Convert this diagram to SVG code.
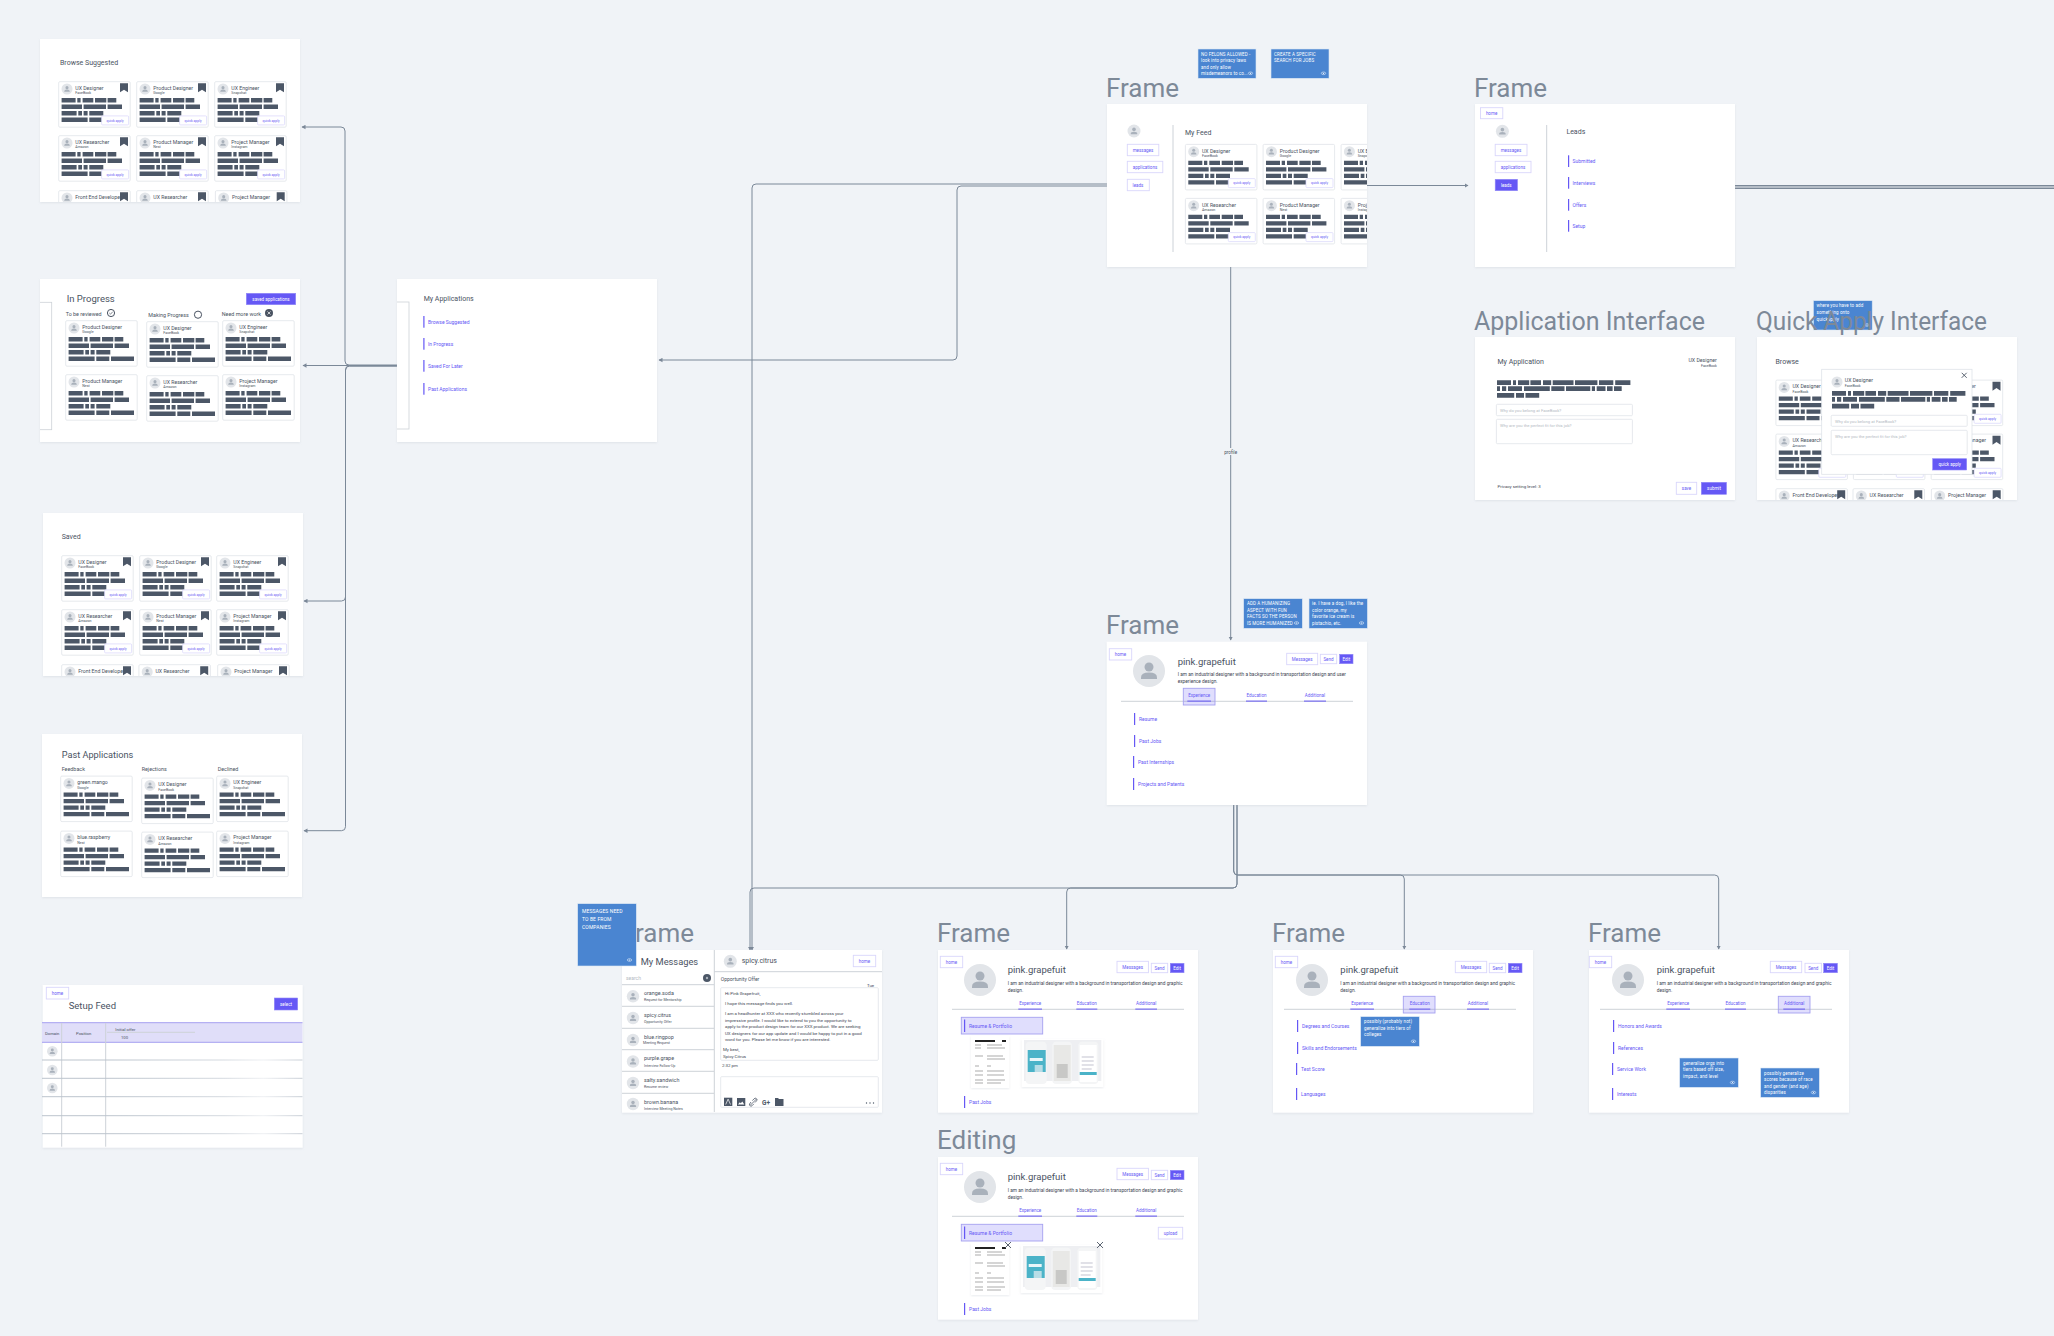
<svg xmlns="http://www.w3.org/2000/svg" width="2054" height="1336" viewBox="0 0 2054 1336">
<style>
text{font-family:Roboto,"Liberation Sans",sans-serif}
.fr{fill:#fff;filter:url(#sh)}
.ti{font-size:26px;fill:#7d8998}
.h1{font-size:9.5px;fill:#4a5362}
.h2{font-size:7px;fill:#4a5362}
.lb{font-size:5.4px;fill:#4a5362}
.ct{font-size:5.2px;fill:#4a5362}
.cs{font-size:3.6px;fill:#4a5362}
.qt{font-size:3.4px;fill:#6558f5;text-anchor:middle}
.bt{font-size:4.5px;fill:#6558f5;text-anchor:middle}
.bw{font-size:4.5px;fill:#fff;text-anchor:middle}
.bo{fill:#fff;stroke:#d9d6fb;stroke-width:.9}
.bf{fill:#6558f5;stroke:#8f88f7;stroke-width:.6}
.ib{fill:#6558f5}
.it{font-size:5px;fill:#6558f5}
.nt{fill:#4a85d1;stroke:#dbe6f4;stroke-width:.6}
.nx{font-size:4.5px;fill:#fff;letter-spacing:.1px}
.dv{stroke:#cdd2d8;stroke-width:1;fill:none}
.in{fill:#fff;stroke:#dfe3e8;stroke-width:.8}
.ph{font-size:4.2px;fill:#b4bac3}
.bs{font-size:4.8px;fill:#3e4653}
.bar{fill:#4c5767}
.cn{fill:none;stroke:#7b8898;stroke-width:1}
.hl{fill:#6558f5;fill-opacity:.2;stroke:#a5a0f0;stroke-width:.9}
.x{stroke:#4a5362;stroke-width:.9;fill:none}
.rw{stroke:url(#fade);stroke-width:1;fill:none}
.sm{font-size:4.4px;fill:#3e4653}
</style>
<defs>
<filter id="sh" x="-3%" y="-3%" width="106%" height="106%"><feDropShadow dx="0" dy="1" stdDeviation="1" flood-color="#aab3bf" flood-opacity=".25"/></filter>
<linearGradient id="fade" gradientUnits="userSpaceOnUse" x1="105" y1="0" x2="303" y2="0"><stop offset="0" stop-color="#bcc4cd"/><stop offset=".6" stop-color="#d5dae0"/><stop offset=".8" stop-color="#eef0f3"/><stop offset="1" stop-color="#c8ced6"/></linearGradient>
<marker id="ah" markerUnits="userSpaceOnUse" markerWidth="5" markerHeight="5" refX="3.5" refY="2.5" orient="auto"><path d="M0 .3L4 2.5L0 4.7z" fill="#7b8898"/></marker>
<clipPath id="cb"><rect x="40" y="39" width="260" height="163"/></clipPath>
<clipPath id="cs"><rect x="43" y="513" width="260" height="163"/></clipPath>
<clipPath id="cf"><rect x="1107" y="104" width="260" height="163"/></clipPath>
<clipPath id="cq"><rect x="1757" y="337" width="260" height="163"/></clipPath>
<clipPath id="cp"><rect x="40" y="279" width="260" height="163"/></clipPath>
<clipPath id="ca"><rect x="397" y="279" width="260" height="163"/></clipPath>
<g id="av"><circle r="10" fill="#e2e5e9"/><circle cy="-2.5" r="2.8" fill="#a9b1bb"/><path d="M-5 5V4Q-5 1 0 1Q5 1 5 4V5Z" fill="#a9b1bb"/></g>
<g id="c"><rect x=".4" y=".4" width="71.5" height="45.5" rx="1.2" fill="#fff" stroke="#dfe3e8" stroke-width=".8"/><use href="#av" transform="translate(8.7,7.7) scale(.55)"/><path class="bar" d="M3.3 16.7h14v4.4h-14zM19 16.7h3.3v4.4h-3.3zM24.3 16.7h10.7v4.4h-10.7zM36.7 16.7h11.3v4.4h-11.3zM49.3 16.7h8.7v4.4h-8.7zM3.3 23.2h20.4v4.4h-20.4zM25.3 23.2h22.4v4.4h-22.4zM49.3 23.2h14.4v4.4h-14.4zM3.3 29.7h15v4.4h-15zM20 29.7h3.7v4.4h-3.7zM25.3 29.7h4v4.4h-4zM31 29.7h14v4.4h-14zM3.3 36.2h26v4.4h-26zM31 36.2h13v4.4h-13zM45.7 36.2h23v4.4h-23z"/></g>
<rect id="q" x="43.3" y="34.6" width="27" height="9" rx="1" fill="#fff" stroke="#d9d6fb" stroke-width=".7"/>
<path id="bm" d="M61.7 2h8v9l-4-2.6l-4 2.6z" fill="#4c5767"/>
<path id="sk" class="bar" d="M0 0h14v4.7h-14zM16 0h3v4.7h-3zM21 0h11.2v4.7h-11.2zM33.4 0h10.6v4.7h-10.6zM46 0h8.2v4.7h-8.2zM55.7 0h20.8v4.7h-20.8zM78 0h22.4v4.7h-22.4zM102 0h14.3v4.7h-14.3zM118.2 0h15.2v4.7h-15.2zM0 6h3v4.7h-3zM5 6h4.2v4.7h-4.2zM11 6h14v4.7h-14zM27 6h25.8v4.7h-25.8zM54.3 6h13.2v4.7h-13.2zM69 6h24.3v4.7h-24.3zM94.8 6h3.2v4.7h-3.2zM99.7 6h8.8v4.7h-8.8zM110 6h5.6v4.7h-5.6zM117 6h7.7v4.7h-7.7zM0 12.7h17.2v4.7h-17.2zM19 12.7h8v4.7h-8zM28.5 12.7h13.7v4.7h-13.7z"/>
<g id="eye"><ellipse rx="2.2" ry="1.3" fill="none" stroke="#fff" stroke-width=".5"/><circle r=".6" fill="#fff"/></g>
<g id="rt"><rect width="38.3" height="52" fill="#fff" filter="url(#sh)"/><path d="M4 4h20v2h-20zM31 4h4v2h-4z" fill="#222"/><path d="M4 9h6M16 9h15M4 12h6M16 12h18M4 20h8M16 20h16M16 23h18M4 30h4M16 30h4M4 35h8M16 35h17M4 39h8M16 39h17M4 44h8M16 44h18M4 47h8M16 47h14" stroke="#888" stroke-width=".7" fill="none"/></g>
<g id="ph"><rect width="81.6" height="48" fill="#fff" filter="url(#sh)"/><rect x="2.3" y="1" width="77.3" height="41" fill="#eeeff2"/><rect x="4" y="2.7" width="21" height="42.3" rx="4" fill="#f4f5f6"/><rect x="6" y="11" width="18" height="22" fill="#4bb3c8"/><path d="M8 19h13v3h-13z" fill="#e9f6f9"/><path d="M13 26h8v7h-8z" fill="#b8dde6"/><rect x="30.6" y="2.7" width="19.7" height="42.3" rx="4" fill="#f4f5f6"/><rect x="32" y="6" width="17" height="36" fill="#e8e8e6"/><path d="M35 25h11v14h-11z" fill="#c8c8c6"/><rect x="56.6" y="2.7" width="20" height="42.3" rx="4" fill="#f4f5f6"/><rect x="58" y="6" width="17" height="37" fill="#fff"/><path d="M60 18h12M60 22h12M60 26h12M60 30h10" stroke="#aab" stroke-width=".7"/><rect x="58" y="33" width="17" height="3" fill="#4bb3c8"/></g>
</defs>
<rect width="2054" height="1336" fill="#f0f3f7"/>

<g id="connectors" class="cn">
<path class="cn" d="M397 365H349q-4 0-4-4V131q0-4-4-4H302" marker-end="url(#ah)"/>
<path class="cn" d="M397 365.5H303" marker-end="url(#ah)"/>
<path class="cn" d="M397 366H349.5q-4 0-4 4V597q0 4-4 4H304" marker-end="url(#ah)"/>
<path class="cn" d="M397 366H349.5q-4 0-4 4V826.7q0 4-4 4H304" marker-end="url(#ah)"/>
<path class="cn" d="M1107 184H756q-4 0-4 4V950" marker-end="url(#ah)"/>
<path class="cn" d="M1107 186H961q-4 0-4 4V356q0 4-4 4H659" marker-end="url(#ah)"/>
<path class="cn" d="M1367 185.5H1468" marker-end="url(#ah)"/>
<path class="cn" d="M1733 185.5H2054M1733 187H2054M1733 188.5H2054" style="stroke-width:1.2"/>
<path class="cn" d="M1230.7 267V640" marker-end="url(#ah)"/>
<path class="cn" d="M1233.7 805V871q0 4 4 4H1400.3q4 0 4 4V949" marker-end="url(#ah)"/>
<path class="cn" d="M1233.7 805V871q0 4 4 4H1714.7q4 0 4 4V949" marker-end="url(#ah)"/>
<path class="cn" d="M1237 805V884q0 4-4 4H1070.7q-4 0-4 4V949" marker-end="url(#ah)"/>
<path class="cn" d="M1237 805V884q0 4-4 4H754q-4 0-4 4V950" marker-end="url(#ah)"/>
<rect x="1222" y="448" width="17" height="7" fill="#f0f3f7" stroke="none"/>
<text x="1230.7" y="454" font-size="4.6" fill="#4a5362" stroke="none" text-anchor="middle">profile</text>
</g>

<g id="browse-suggested">
<rect class="fr" x="40" y="39" width="260" height="163"/>
<g clip-path="url(#cb)">
<text class="h2" x="60" y="64.7">Browse Suggested</text>
<g transform="translate(58.3,81.3)"><use href="#c"/><use href="#bm"/><use href="#q"/><text class="ct" x="17" y="8.7">UX Designer</text><text class="cs" x="17" y="13.2">FaceBook</text><text class="qt" x="56.8" y="40.4">quick apply</text></g>
<g transform="translate(136.3,81.3)"><use href="#c"/><use href="#bm"/><use href="#q"/><text class="ct" x="17" y="8.7">Product Designer</text><text class="cs" x="17" y="13.2">Google</text><text class="qt" x="56.8" y="40.4">quick apply</text></g>
<g transform="translate(214.3,81.3)"><use href="#c"/><use href="#bm"/><use href="#q"/><text class="ct" x="17" y="8.7">UX Engineer</text><text class="cs" x="17" y="13.2">Snapchat</text><text class="qt" x="56.8" y="40.4">quick apply</text></g>
<g transform="translate(58.3,135.3)"><use href="#c"/><use href="#bm"/><use href="#q"/><text class="ct" x="17" y="8.7">UX Researcher</text><text class="cs" x="17" y="13.2">Amazon</text><text class="qt" x="56.8" y="40.4">quick apply</text></g>
<g transform="translate(136.3,135.3)"><use href="#c"/><use href="#bm"/><use href="#q"/><text class="ct" x="17" y="8.7">Product Manager</text><text class="cs" x="17" y="13.2">Nest</text><text class="qt" x="56.8" y="40.4">quick apply</text></g>
<g transform="translate(214.3,135.3)"><use href="#c"/><use href="#bm"/><use href="#q"/><text class="ct" x="17" y="8.7">Project Manager</text><text class="cs" x="17" y="13.2">Instagram</text><text class="qt" x="56.8" y="40.4">quick apply</text></g>
<g transform="translate(58.3,190.3)"><use href="#c"/><text class="ct" x="17" y="8.7">Front End Developer</text><use href="#bm"/></g>
<g transform="translate(136.3,190.3)"><use href="#c"/><text class="ct" x="17" y="8.7">UX Researcher</text><use href="#bm"/></g>
<g transform="translate(215,190.3)"><use href="#c"/><text class="ct" x="17" y="8.7">Project Manager</text><use href="#bm"/></g>
</g>
</g>

<g id="in-progress">
<rect class="fr" x="40" y="279" width="260" height="163"/>
<g clip-path="url(#cp)"><rect x="20" y="302.3" width="31.7" height="127.4" fill="#fff" stroke="#cdd2d8" stroke-width=".8"/></g>
<text class="h1" x="66.7" y="302">In Progress</text>
<rect class="bf" x="246.3" y="293.3" width="49.4" height="11.4"/><text class="bw" x="271" y="300.5">saved applications</text>
<text class="lb" x="65.7" y="315.7">To be reviewed</text><circle cx="111" cy="313" r="3.6" fill="none" stroke="#4a5362" stroke-width="1"/><path d="M109.3 313l1.2 1.2l2.2-2.4" fill="none" stroke="#4a5362" stroke-width=".7"/>
<text class="lb" x="148.3" y="316.7">Making Progress</text><circle cx="198" cy="314.7" r="3.6" fill="none" stroke="#4a5362" stroke-width="1"/>
<text class="lb" x="221.7" y="315.7">Need more work</text><circle cx="269" cy="313" r="4" fill="#4a5362"/><path d="M267.5 311.5l3 3M270.5 311.5l-3 3" stroke="#fff" stroke-width=".7"/>
<g transform="translate(65.3,320.3)"><use href="#c"/><text class="ct" x="17" y="8.7">Product Designer</text><text class="cs" x="17" y="13.2">Google</text></g>
<g transform="translate(146.3,321.3)"><use href="#c"/><text class="ct" x="17" y="8.7">UX Designer</text><text class="cs" x="17" y="13.2">FaceBook</text></g>
<g transform="translate(222.3,320.3)"><use href="#c"/><text class="ct" x="17" y="8.7">UX Engineer</text><text class="cs" x="17" y="13.2">Snapchat</text></g>
<g transform="translate(65.3,374.3)"><use href="#c"/><text class="ct" x="17" y="8.7">Product Manager</text><text class="cs" x="17" y="13.2">Nest</text></g>
<g transform="translate(146.3,375.3)"><use href="#c"/><text class="ct" x="17" y="8.7">UX Researcher</text><text class="cs" x="17" y="13.2">Amazon</text></g>
<g transform="translate(222.3,374.3)"><use href="#c"/><text class="ct" x="17" y="8.7">Project Manager</text><text class="cs" x="17" y="13.2">Instagram</text></g>
</g>

<g id="my-applications">
<rect class="fr" x="397" y="279" width="260" height="163"/>
<g clip-path="url(#ca)"><rect x="380" y="302" width="29" height="127" fill="#fff" stroke="#cdd2d8" stroke-width=".8"/></g>
<text class="h2" x="423.7" y="300.7">My Applications</text>
<rect class="ib" x="423.3" y="316" width="1.2" height="11.7"/><text class="it" x="428" y="324">Browse Suggested</text>
<rect class="ib" x="423.3" y="338" width="1.2" height="11.7"/><text class="it" x="428" y="346">In Progress</text>
<rect class="ib" x="423.3" y="360" width="1.2" height="11.7"/><text class="it" x="428" y="368">Saved For Later</text>
<rect class="ib" x="423.3" y="383" width="1.2" height="11.7"/><text class="it" x="428" y="391">Past Applications</text>
</g>

<g id="saved">
<rect class="fr" x="43" y="513" width="260" height="163"/>
<g clip-path="url(#cs)">
<text class="h2" x="61.7" y="538.7">Saved</text>
<g transform="translate(61.3,555.3)"><use href="#c"/><use href="#bm"/><use href="#q"/><text class="ct" x="17" y="8.7">UX Designer</text><text class="cs" x="17" y="13.2">FaceBook</text><text class="qt" x="56.8" y="40.4">quick apply</text></g>
<g transform="translate(139.3,555.3)"><use href="#c"/><use href="#bm"/><use href="#q"/><text class="ct" x="17" y="8.7">Product Designer</text><text class="cs" x="17" y="13.2">Google</text><text class="qt" x="56.8" y="40.4">quick apply</text></g>
<g transform="translate(216.3,555.3)"><use href="#c"/><use href="#bm"/><use href="#q"/><text class="ct" x="17" y="8.7">UX Engineer</text><text class="cs" x="17" y="13.2">Snapchat</text><text class="qt" x="56.8" y="40.4">quick apply</text></g>
<g transform="translate(61.3,609.3)"><use href="#c"/><use href="#bm"/><use href="#q"/><text class="ct" x="17" y="8.7">UX Researcher</text><text class="cs" x="17" y="13.2">Amazon</text><text class="qt" x="56.8" y="40.4">quick apply</text></g>
<g transform="translate(139.3,609.3)"><use href="#c"/><use href="#bm"/><use href="#q"/><text class="ct" x="17" y="8.7">Product Manager</text><text class="cs" x="17" y="13.2">Nest</text><text class="qt" x="56.8" y="40.4">quick apply</text></g>
<g transform="translate(216.3,609.3)"><use href="#c"/><use href="#bm"/><use href="#q"/><text class="ct" x="17" y="8.7">Project Manager</text><text class="cs" x="17" y="13.2">Instagram</text><text class="qt" x="56.8" y="40.4">quick apply</text></g>
<g transform="translate(61.3,664.3)"><use href="#c"/><text class="ct" x="17" y="8.7">Front End Developer</text><use href="#bm"/></g>
<g transform="translate(138.5,664.3)"><use href="#c"/><text class="ct" x="17" y="8.7">UX Researcher</text><use href="#bm"/></g>
<g transform="translate(217.3,664.3)"><use href="#c"/><text class="ct" x="17" y="8.7">Project Manager</text><use href="#bm"/></g>
</g>
</g>

<g id="past-applications">
<rect class="fr" x="42" y="734" width="260" height="163"/>
<text class="h1" x="61.7" y="758.3" style="font-size:9.2px">Past Applications</text>
<text class="lb" x="61.7" y="770.7">Feedback</text><text class="lb" x="141.7" y="770.7">Rejections</text><text class="lb" x="217.7" y="770.7">Declined</text>
<g transform="translate(60.3,775.7)"><use href="#c"/><text class="ct" x="17" y="8.7">green.mango</text><text class="cs" x="17" y="13.2">Google</text></g>
<g transform="translate(141.3,777.7)"><use href="#c"/><text class="ct" x="17" y="8.7">UX Designer</text><text class="cs" x="17" y="13.2">FaceBook</text></g>
<g transform="translate(216.3,775.7)"><use href="#c"/><text class="ct" x="17" y="8.7">UX Engineer</text><text class="cs" x="17" y="13.2">Snapchat</text></g>
<g transform="translate(60.3,830.7)"><use href="#c"/><text class="ct" x="17" y="8.7">blue.raspberry</text><text class="cs" x="17" y="13.2">Nest</text></g>
<g transform="translate(141.3,831.7)"><use href="#c"/><text class="ct" x="17" y="8.7">UX Researcher</text><text class="cs" x="17" y="13.2">Amazon</text></g>
<g transform="translate(216.3,830.7)"><use href="#c"/><text class="ct" x="17" y="8.7">Project Manager</text><text class="cs" x="17" y="13.2">Instagram</text></g>
</g>

<g id="setup-feed">
<rect class="fr" x="42.7" y="985" width="260" height="162.7"/>
<rect class="bo" x="46.3" y="987.3" width="22.4" height="11.7"/><text class="bt" x="57.5" y="995">home</text>
<text class="h1" x="68.7" y="1009">Setup Feed</text>
<rect class="bf" x="274.3" y="998" width="23.4" height="12"/><text class="bw" x="286" y="1005.5">select</text>
<rect x="42" y="1022.7" width="260.5" height="19.6" fill="#e0def9"/>
<path d="M42 1022.7H302.5M42 1042.3H302.5" stroke="#a5a0f0" stroke-width="1" fill="none"/>
<path class="dv" d="M61.7 1023V1146.7M105.7 1023V1146.7M107 1032.3H195"/>
<path class="rw" d="M42 1060H302.5M42 1078.3H302.5M42 1096.7H302.5M42 1115.7H302.5M42 1133.7H302.5"/>
<text class="ph" style="fill:#4a5362" x="45" y="1035">Domain</text>
<text class="ph" style="fill:#4a5362;text-anchor:middle" x="83.7" y="1035">Position</text>
<text class="ph" style="fill:#4a5362" x="115.3" y="1031">Initial offer</text>
<text class="ph" style="fill:#4a5362" x="121" y="1039">100</text>
<use href="#av" transform="translate(52.3,1051.3) scale(.53)"/><use href="#av" transform="translate(52.3,1070) scale(.53)"/><use href="#av" transform="translate(52.3,1088) scale(.53)"/>
</g>

<g id="feed">
<text class="ti" x="1106" y="96.5">Frame</text>
<rect class="nt" x="1198" y="49" width="58" height="29.3"/>
<text class="nx" x="1201" y="55.5">NO FELONS ALLOWED -</text><text class="nx" x="1201" y="62">look into privacy laws</text><text class="nx" x="1201" y="68.5">and only allow</text><text class="nx" x="1201" y="75">misdemeanors to co...</text><use href="#eye" transform="translate(1250.5,73.3)"/>
<rect class="nt" x="1271" y="49" width="58" height="29.3"/>
<text class="nx" x="1274" y="55.5">CREATE A SPECIFIC</text><text class="nx" x="1274" y="62">SEARCH FOR JOBS</text><use href="#eye" transform="translate(1323.5,73.3)"/>
<rect class="fr" x="1107" y="104" width="260" height="163"/>
<g clip-path="url(#cf)">
<use href="#av" transform="translate(1134,131) scale(.65)"/>
<rect class="bo" x="1127.3" y="144.3" width="31.5" height="11.4"/><text class="bt" x="1143" y="152">messages</text>
<rect class="bo" x="1127.3" y="161.3" width="35.5" height="11.4"/><text class="bt" x="1145" y="169">applications</text>
<rect class="bo" x="1127.3" y="179.3" width="22" height="11.4"/><text class="bt" x="1138" y="187">leads</text>
<path class="dv" d="M1173 125V252"/>
<text class="h2" x="1185" y="135">My Feed</text>
<g transform="translate(1185,144)"><use href="#c"/><use href="#q"/><text class="ct" x="17" y="8.7">UX Designer</text><text class="cs" x="17" y="13.2">FaceBook</text><text class="qt" x="56.8" y="40.4">quick apply</text></g>
<g transform="translate(1262.7,144)"><use href="#c"/><use href="#q"/><text class="ct" x="17" y="8.7">Product Designer</text><text class="cs" x="17" y="13.2">Google</text><text class="qt" x="56.8" y="40.4">quick apply</text></g>
<g transform="translate(1340.7,144)"><use href="#c"/><text class="ct" x="17" y="8.7">UX Engineer</text><text class="cs" x="17" y="13.2">Snapchat</text></g>
<g transform="translate(1185,198)"><use href="#c"/><use href="#q"/><text class="ct" x="17" y="8.7">UX Researcher</text><text class="cs" x="17" y="13.2">Amazon</text><text class="qt" x="56.8" y="40.4">quick apply</text></g>
<g transform="translate(1262.7,198)"><use href="#c"/><use href="#q"/><text class="ct" x="17" y="8.7">Product Manager</text><text class="cs" x="17" y="13.2">Nest</text><text class="qt" x="56.8" y="40.4">quick apply</text></g>
<g transform="translate(1340.7,198)"><use href="#c"/><text class="ct" x="17" y="8.7">Project Manager</text><text class="cs" x="17" y="13.2">Instagram</text></g>
</g>
</g>

<g id="leads">
<text class="ti" x="1474" y="96.5">Frame</text>
<rect class="fr" x="1475" y="104" width="260" height="163"/>
<rect class="bo" x="1480.5" y="107.7" width="22.3" height="11"/><text class="bt" x="1491.6" y="115">home</text>
<use href="#av" transform="translate(1502.4,131.3) scale(.65)"/>
<rect class="bo" x="1495.2" y="144.3" width="31.8" height="11.4"/><text class="bt" x="1511" y="152">messages</text>
<rect class="bo" x="1495.2" y="161.3" width="35.8" height="11.4"/><text class="bt" x="1513" y="169">applications</text>
<rect class="bf" x="1495.2" y="179.3" width="22.3" height="11.4"/><text class="bw" x="1506.3" y="187">leads</text>
<path class="dv" d="M1546.7 125V252"/>
<text class="h2" x="1566.4" y="133.7">Leads</text>
<rect class="ib" x="1568" y="155.3" width="1.2" height="11.7"/><text class="it" x="1572.5" y="162.7">Submitted</text>
<rect class="ib" x="1568" y="177" width="1.2" height="11.7"/><text class="it" x="1572.5" y="185">Interviews</text>
<rect class="ib" x="1568" y="199" width="1.2" height="11.7"/><text class="it" x="1572.5" y="207">Offers</text>
<rect class="ib" x="1568" y="220" width="1.2" height="11.7"/><text class="it" x="1572.5" y="228">Setup</text>
</g>

<g id="application-interface">
<text class="ti" x="1474" y="330" textLength="231" lengthAdjust="spacingAndGlyphs">Application Interface</text>
<rect class="fr" x="1475" y="337" width="260" height="163"/>
<text class="h2" x="1497.5" y="363.7">My Application</text>
<text class="ct" x="1716.8" y="361.7" text-anchor="end">UX Designer</text><text class="cs" x="1716.8" y="367" text-anchor="end">FaceBook</text>
<use href="#sk" x="1497" y="380.3"/>
<rect class="in" x="1496.4" y="404.3" width="136" height="11.4" rx="1"/><text class="ph" x="1500" y="412">Why do you belong at FaceBook?</text>
<rect class="in" x="1496.4" y="419.3" width="136" height="24.4" rx="1"/><text class="ph" x="1500" y="427">Why are you the perfect fit for this job?</text>
<text class="sm" x="1497.5" y="487.7">Privacy setting level: 3</text>
<rect class="bo" x="1676.3" y="482.3" width="20.4" height="12"/><text class="bt" x="1686.5" y="490">save</text>
<rect class="bf" x="1701.3" y="482.3" width="25.2" height="12"/><text class="bw" x="1714" y="490">submit</text>
</g>

<g id="quick-apply-interface">
<rect class="nt" x="1813.4" y="300.7" width="58.8" height="29.3"/>
<text class="nx" x="1816.5" y="307">where you have to add</text><text class="nx" x="1816.5" y="314">something onto</text><text class="nx" x="1816.5" y="321">quickapply</text><use href="#eye" transform="translate(1867,325)"/>
<text class="ti" x="1756" y="330" textLength="231" lengthAdjust="spacingAndGlyphs">Quick Apply Interface</text>
<rect class="fr" x="1757" y="337" width="260" height="163"/>
<g clip-path="url(#cq)">
<text class="h2" x="1775.5" y="363.7">Browse</text>
<g transform="translate(1775.5,379.7)"><use href="#c"/><text class="ct" x="17" y="8.7">UX Designer</text><text class="cs" x="17" y="13.2">FaceBook</text></g>
<g transform="translate(1853,379.7)"><use href="#c"/><use href="#q"/></g>
<g transform="translate(1930.8,379.7)"><use href="#c"/><use href="#bm"/><use href="#q"/><text class="ct" x="17" y="8.7">UX Engineer</text><text class="cs" x="17" y="13.2">Snapchat</text><text class="qt" x="56.8" y="40.4">quick apply</text></g>
<g transform="translate(1775.5,433.7)"><use href="#c"/><use href="#q"/><text class="ct" x="17" y="8.7">UX Researcher</text><text class="cs" x="17" y="13.2">Amazon</text></g>
<g transform="translate(1853,433.7)"><use href="#c"/><use href="#q"/></g>
<g transform="translate(1930.8,433.7)"><use href="#c"/><use href="#bm"/><use href="#q"/><text class="ct" x="17" y="8.7">Project Manager</text><text class="cs" x="17" y="13.2">Instagram</text><text class="qt" x="56.8" y="40.4">quick apply</text></g>
<g transform="translate(1775.5,488.3)"><use href="#c"/><text class="ct" x="17" y="8.7">Front End Developer</text><use href="#bm"/></g>
<g transform="translate(1852.6,488.3)"><use href="#c"/><text class="ct" x="17" y="8.7">UX Researcher</text><use href="#bm"/></g>
<g transform="translate(1931,488.3)"><use href="#c"/><text class="ct" x="17" y="8.7">Project Manager</text><use href="#bm"/></g>
</g>
<rect x="1821.7" y="369.3" width="150.3" height="105" fill="#fff" stroke="#dfe3e8" stroke-width=".8"/>
<use href="#av" transform="translate(1837,382) scale(.55)"/>
<text class="ct" x="1844.8" y="381.7">UX Designer</text><text class="cs" x="1844.8" y="387">FaceBook</text>
<path class="x" d="M1961.7 372.8l5 5M1966.7 372.8l-5 5"/>
<use href="#sk" x="1832" y="391"/>
<rect class="in" x="1831.2" y="415.3" width="136" height="11" rx="1"/><text class="ph" x="1835" y="423">Why do you belong at FaceBook?</text>
<rect class="in" x="1831.2" y="430.3" width="136" height="24.4" rx="1"/><text class="ph" x="1835" y="438">Why are you the perfect fit for this job?</text>
<rect class="bf" x="1932.7" y="458.7" width="34" height="11.3"/><text class="bw" x="1949.7" y="466.3">quick apply</text>
</g>

<g id="profile">
<text class="ti" x="1106" y="634">Frame</text>
<rect class="nt" x="1243.7" y="598.7" width="58.6" height="29.6"/>
<text class="nx" x="1247" y="605">ADD A HUMANIZING</text><text class="nx" x="1247" y="611.7">ASPECT WITH FUN</text><text class="nx" x="1247" y="618.3">FACTS SO THE PERSON</text><text class="nx" x="1247" y="625">IS MORE HUMANIZED</text><use href="#eye" transform="translate(1296.5,623)"/>
<rect class="nt" x="1309" y="598.7" width="58.4" height="29.6"/>
<text class="nx" x="1312" y="605">ie. I have a dog, I like the</text><text class="nx" x="1312" y="611.7">color orange, my</text><text class="nx" x="1312" y="618.3">favorite ice cream is</text><text class="nx" x="1312" y="625">pistachio, etc.</text><use href="#eye" transform="translate(1361.5,623)"/>
<g transform="translate(1106.7,641.7)">
<rect class="fr" width="260.3" height="163.3"/>
<rect class="bo" x="2.6" y="7" width="22.4" height="11.3"/><text class="bt" x="13.8" y="14.5">home</text>
<use href="#av" transform="translate(42.3,29.3) scale(1.6)"/>
<text class="h1" x="71" y="23.3">pink.grapefuit</text>
<text class="bs" x="71" y="34.6">I am an industrial designer with a background in transportation design and user</text>
<text class="bs" x="71" y="41">experience design.</text>
<rect class="bo" x="180" y="11.6" width="31" height="11.4"/><text class="bt" x="195.5" y="19">Messages</text>
<rect class="bo" x="213.6" y="12.6" width="16.4" height="9.4"/><text class="bt" x="221.8" y="19">Send</text>
<rect class="bf" x="233" y="12.6" width="13.3" height="9.4"/><text class="bw" x="239.6" y="19">Edit</text>
<path class="dv" d="M14.3 59.6H246.3"/>
<rect class="hl" x="76.6" y="46.6" width="31.7" height="16.7"/>
<text class="bt" x="92.5" y="55">Experience</text><rect class="ib" x="80.6" y="58.9" width="23.7" height="1"/>
<text class="bt" x="149.8" y="55">Education</text><rect class="ib" x="139.3" y="58.9" width="21" height="1"/>
<text class="bt" x="208.3" y="55">Additional</text><rect class="ib" x="197.3" y="58.9" width="22" height="1"/>
<rect class="ib" x="27.3" y="71.3" width="1.2" height="12"/><text class="it" x="32.3" y="79">Resume</text>
<rect class="ib" x="27.3" y="93.3" width="1.2" height="12"/><text class="it" x="32.3" y="101">Past Jobs</text>
<rect class="ib" x="26.3" y="114.3" width="1.2" height="12"/><text class="it" x="31.3" y="122.3">Past Internships</text>
<rect class="ib" x="26.3" y="136.3" width="1.2" height="12"/><text class="it" x="31.3" y="144.3">Projects and Patents</text>
</g>
</g>

<g id="messages">
<text class="ti" x="621" y="942.2">Frame</text>
<rect class="fr" x="622" y="950" width="260" height="162.7"/>
<rect class="nt" x="577.7" y="903.7" width="58.6" height="62.3"/>
<text class="nx" style="font-size:5px" x="582" y="913.3">MESSAGES NEED</text><text class="nx" style="font-size:5px" x="582" y="921">TO BE FROM</text><text class="nx" style="font-size:5px" x="582" y="929">COMPANIES</text><use href="#eye" transform="translate(629.5,960)"/>
<text x="640.7" y="965" font-size="9.3" fill="#4a5362">My Messages</text>
<path class="dv" d="M714.3 950V1112M714.3 971.7H882M622 984.7H714M622 1006.3H714M622 1028.3H714M622 1049.7H714M622 1071.3H714M622 1093.3H714"/>
<text class="ph" x="626" y="980" style="font-size:5px">search</text><circle cx="707" cy="978" r="4" fill="#4c5767"/><circle cx="707" cy="978" r="1.2" fill="#aab2bc"/>
<use href="#av" transform="translate(633,996.3) scale(.62)"/><text class="lb" x="644" y="994.7">orange.soda</text><text class="cs" x="644" y="1001">Request for Mentorship</text>
<use href="#av" transform="translate(633,1018) scale(.62)"/><text class="lb" x="644" y="1016.7">spicy.citrus</text><text class="cs" x="644" y="1023">Opportunity Offer</text>
<use href="#av" transform="translate(633,1040) scale(.62)"/><text class="lb" x="644" y="1038.7">blue.ringpop</text><text class="cs" x="643" y="1044">Meeting Request</text>
<use href="#av" transform="translate(633,1061.5) scale(.62)"/><text class="lb" x="644" y="1060">purple.grape</text><text class="cs" x="644" y="1067">Interview Follow-Up</text>
<use href="#av" transform="translate(633,1083) scale(.62)"/><text class="lb" x="644" y="1082">salty.sandwich</text><text class="cs" x="644" y="1088">Resume review</text>
<use href="#av" transform="translate(633,1104) scale(.62)"/><text class="lb" x="644" y="1104">brown.banana</text><text class="cs" x="644" y="1110">Interview Meeting Notes</text>
<use href="#av" transform="translate(730.3,961.3) scale(.65)"/>
<text x="741.7" y="963.3" font-size="7" fill="#4a5362">spicy.citrus</text>
<rect class="bo" x="853.3" y="955.3" width="22.4" height="11.4"/><text class="bt" x="864.5" y="963">home</text>
<text class="lb" x="720.7" y="980.7" style="font-size:5px">Opportunity Offer</text>
<text class="sm" x="867" y="987">Tue</text>
<rect class="in" x="720.7" y="987.7" width="157.6" height="72.6" rx="1"/>
<text class="sm" x="725" y="995">Hi Pink Grapefruit,</text>
<text class="sm" x="725" y="1005">I hope this message finds you well.</text>
<text class="sm" x="725" y="1014.7">I am a headhunter at XXX who recently stumbled across your</text>
<text class="sm" x="725" y="1021.5">impressive profile. I would like to extend to you the opportunity to</text>
<text class="sm" x="725" y="1028">apply to the product design team for our XXX product. We are seeking</text>
<text class="sm" x="725" y="1034.7">UX designers for our app update and I would be happy to put in a good</text>
<text class="sm" x="725" y="1041">word for you. Please let me know if you are interested.</text>
<text class="sm" x="723" y="1051">My best,</text>
<text class="sm" x="723" y="1057.5">Spicy Citrus</text>
<text class="sm" x="722" y="1067">2:32 pm</text>
<rect class="in" x="720.7" y="1076.7" width="157.6" height="30.6" rx="1"/>
<rect x="724" y="1097.7" width="8.3" height="8.3" fill="#4c5767"/><path d="M725.7 1104.5l2.4-5.4l2.4 5.4" stroke="#fff" stroke-width=".7" fill="none"/>
<path d="M737 1098h8.3v8h-8.3zM738 1104.5h6.3l-2-3l-1.5 1.7l-1-1z" fill="#4c5767" fill-rule="evenodd"/>
<path d="M750.5 1105l6-6M751 1102l-1.5 2a1.6 1.6 0 0 0 2.6 1.7l1.7-1.8M755 1102.5l1.6-1.7a1.6 1.6 0 0 0-2.5-2l-1.7 1.8" stroke="#4c5767" stroke-width=".8" fill="none"/>
<text x="762" y="1105" font-size="6.5" font-weight="700" fill="#4c5767">G+</text>
<path d="M775 1098h3l1 1h4.5v7h-8.5z" fill="#4c5767"/>
<circle cx="866.5" cy="1103" r=".7" fill="#4c5767"/><circle cx="870" cy="1103" r=".7" fill="#4c5767"/><circle cx="873.5" cy="1103" r=".7" fill="#4c5767"/>
</g>

<g id="experience">
<text class="ti" x="937" y="942.2">Frame</text>
<g transform="translate(938,950)">
<rect class="fr" width="260" height="162.7"/>
<rect class="bo" x="2.3" y="6.3" width="22.4" height="11.4"/><text class="bt" x="13.5" y="14">home</text>
<use href="#av" transform="translate(42,30) scale(1.6)"/>
<text class="h1" x="69.7" y="23.3">pink.grapefuit</text>
<text class="bs" x="69.7" y="35.3">I am an industrial designer with a background in transportation design and graphic</text>
<text class="bs" x="69.7" y="41.7">design.</text>
<rect class="bo" x="179" y="11.3" width="31.4" height="11.4"/><text class="bt" x="194.7" y="19">Messages</text>
<rect class="bo" x="213.3" y="13.3" width="16.4" height="9.4"/><text class="bt" x="221.5" y="19.6">Send</text>
<rect class="bf" x="232.3" y="13.3" width="13.7" height="9.4"/><text class="bw" x="239.1" y="19.6">Edit</text>
<path class="dv" d="M14 59.3H246"/>
<text class="bt" x="92.2" y="55">Experience</text><rect class="ib" x="80.3" y="58.6" width="23.7" height="1"/>
<text class="bt" x="148.8" y="55">Education</text><rect class="ib" x="138.3" y="58.6" width="21" height="1"/>
<text class="bt" x="208.2" y="55">Additional</text><rect class="ib" x="197.3" y="58.6" width="21.7" height="1"/>
<rect class="hl" x="23.3" y="67.3" width="81.4" height="16.7"/><rect class="ib" x="26" y="69.5" width="1.2" height="12.5"/><text class="it" x="31" y="77.7">Resume &amp; Portfolio</text>
<use href="#rt" x="33" y="86"/><use href="#ph" x="83.7" y="89"/>
<rect class="ib" x="26" y="146" width="1.2" height="12"/><text class="it" x="31" y="153.7">Past Jobs</text>
</g>
</g>

<g id="editing">
<text class="ti" x="937" y="1149.2">Editing</text>
<g transform="translate(938,1157)">
<rect class="fr" width="260" height="162.7"/>
<rect class="bo" x="2.3" y="6.3" width="22.4" height="11.4"/><text class="bt" x="13.5" y="14">home</text>
<use href="#av" transform="translate(42,30) scale(1.6)"/>
<text class="h1" x="69.7" y="23.3">pink.grapefuit</text>
<text class="bs" x="69.7" y="35.3">I am an industrial designer with a background in transportation design and graphic</text>
<text class="bs" x="69.7" y="41.7">design.</text>
<rect class="bo" x="179" y="11.3" width="31.4" height="11.4"/><text class="bt" x="194.7" y="19">Messages</text>
<rect class="bo" x="213.3" y="13.3" width="16.4" height="9.4"/><text class="bt" x="221.5" y="19.6">Send</text>
<rect class="bf" x="232.3" y="13.3" width="13.7" height="9.4"/><text class="bw" x="239.1" y="19.6">Edit</text>
<path class="dv" d="M14 59.3H246"/>
<text class="bt" x="92.2" y="55">Experience</text><rect class="ib" x="80.3" y="58.6" width="23.7" height="1"/>
<text class="bt" x="148.8" y="55">Education</text><rect class="ib" x="138.3" y="58.6" width="21" height="1"/>
<text class="bt" x="208.2" y="55">Additional</text><rect class="ib" x="197.3" y="58.6" width="21.7" height="1"/>
<rect class="hl" x="23.3" y="67.3" width="81.4" height="16.7"/><rect class="ib" x="26" y="69.5" width="1.2" height="12.5"/><text class="it" x="31" y="77.7">Resume &amp; Portfolio</text>
<rect class="bo" x="220.3" y="70.3" width="24.4" height="11.7"/><text class="bt" x="232.5" y="78">upload</text>
<use href="#rt" x="33" y="86"/><use href="#ph" x="82.7" y="88"/>
<path class="x" d="M67 85l6 6M73 85l-6 6M159 85l6 6M165 85l-6 6"/>
<rect class="ib" x="26" y="146" width="1.2" height="12"/><text class="it" x="31" y="153.7">Past Jobs</text>
</g>
</g>

<g id="education">
<text class="ti" x="1272" y="942.2">Frame</text>
<g transform="translate(1273,950)">
<rect class="fr" width="260" height="162.7"/>
<rect class="bo" x="2.3" y="6.3" width="22.4" height="11.4"/><text class="bt" x="13.5" y="14">home</text>
<use href="#av" transform="translate(39,30) scale(1.6)"/>
<text class="h1" x="67.3" y="23.3">pink.grapefuit</text>
<text class="bs" x="67.3" y="35.3">I am an industrial designer with a background in transportation design and graphic</text>
<text class="bs" x="67.3" y="41.7">design.</text>
<rect class="bo" x="182.3" y="11.3" width="31.4" height="11.4"/><text class="bt" x="198" y="19">Messages</text>
<rect class="bo" x="216.3" y="13.3" width="16.4" height="9.4"/><text class="bt" x="224.5" y="19.6">Send</text>
<rect class="bf" x="235.3" y="13.3" width="13.7" height="9.4"/><text class="bw" x="242.1" y="19.6">Edit</text>
<path class="dv" d="M11 59.3H243"/>
<rect class="hl" x="130.3" y="46.3" width="31.7" height="16.7"/>
<text class="bt" x="89.2" y="55">Experience</text><rect class="ib" x="77.3" y="58.6" width="23.7" height="1"/>
<text class="bt" x="146.8" y="55">Education</text><rect class="ib" x="136.3" y="58.6" width="21" height="1"/>
<text class="bt" x="205" y="55">Additional</text><rect class="ib" x="194" y="58.6" width="22" height="1"/>
<rect class="ib" x="24" y="70" width="1.2" height="12"/><text class="it" x="29" y="78">Degrees and Courses</text>
<rect class="ib" x="24" y="92" width="1.2" height="12"/><text class="it" x="29" y="100">Skills and Endorsements</text>
<rect class="ib" x="23" y="113" width="1.2" height="12"/><text class="it" x="28" y="121">Test Score</text>
<rect class="ib" x="23" y="138" width="1.2" height="12"/><text class="it" x="28" y="146">Languages</text>
<rect class="nt" x="87.7" y="66.7" width="58.6" height="29.6"/>
<text class="nx" x="91" y="73">possibly (probably not)</text><text class="nx" x="91" y="79.7">generalize into tiers of</text><text class="nx" x="91" y="86.3">colleges</text><use href="#eye" transform="translate(140.5,91.3)"/>
</g>
</g>

<g id="additional">
<text class="ti" x="1588" y="942.2">Frame</text>
<g transform="translate(1589,950)">
<rect class="fr" width="260" height="162.7"/>
<rect class="bo" x=".3" y="6.3" width="22.4" height="11.4"/><text class="bt" x="11.5" y="14">home</text>
<use href="#av" transform="translate(39,30) scale(1.6)"/>
<text class="h1" x="67.7" y="23.3">pink.grapefuit</text>
<text class="bs" x="67.7" y="35.3">I am an industrial designer with a background in transportation design and graphic</text>
<text class="bs" x="67.7" y="41.7">design.</text>
<rect class="bo" x="181.3" y="11.3" width="31.4" height="11.4"/><text class="bt" x="197" y="19">Messages</text>
<rect class="bo" x="216" y="13.3" width="16.4" height="9.4"/><text class="bt" x="224.2" y="19.6">Send</text>
<rect class="bf" x="234.7" y="13.3" width="13.7" height="9.4"/><text class="bw" x="241.5" y="19.6">Edit</text>
<path class="dv" d="M11 59.3H243"/>
<rect class="hl" x="189.3" y="46.3" width="31.7" height="16.7"/>
<text class="bt" x="89.2" y="55">Experience</text><rect class="ib" x="77.3" y="58.6" width="23.7" height="1"/>
<text class="bt" x="146.5" y="55">Education</text><rect class="ib" x="136" y="58.6" width="21" height="1"/>
<text class="bt" x="205.2" y="55">Additional</text><rect class="ib" x="194.3" y="58.6" width="21.7" height="1"/>
<rect class="ib" x="24" y="70" width="1.2" height="12"/><text class="it" x="29" y="78">Honors and Awards</text>
<rect class="ib" x="24" y="92" width="1.2" height="12"/><text class="it" x="29" y="100">References</text>
<rect class="ib" x="23" y="113" width="1.2" height="12"/><text class="it" x="28" y="121">Service Work</text>
<rect class="ib" x="23" y="138" width="1.2" height="12"/><text class="it" x="28" y="146">Interests</text>
<rect class="nt" x="90.7" y="108" width="58.6" height="29.3"/>
<text class="nx" x="94" y="114.5">generalize orgs into</text><text class="nx" x="94" y="121">tiers based off size,</text><text class="nx" x="94" y="127.5">impact, and level</text><use href="#eye" transform="translate(143.5,132.5)"/>
<rect class="nt" x="171.7" y="118" width="58.6" height="29.3"/>
<text class="nx" x="175" y="124.5">possibly generalize</text><text class="nx" x="175" y="131">scores because of race</text><text class="nx" x="175" y="137.5">and gender (and age)</text><text class="nx" x="175" y="144">disparities</text><use href="#eye" transform="translate(224.5,142.5)"/>
</g>
</g>
</svg>
